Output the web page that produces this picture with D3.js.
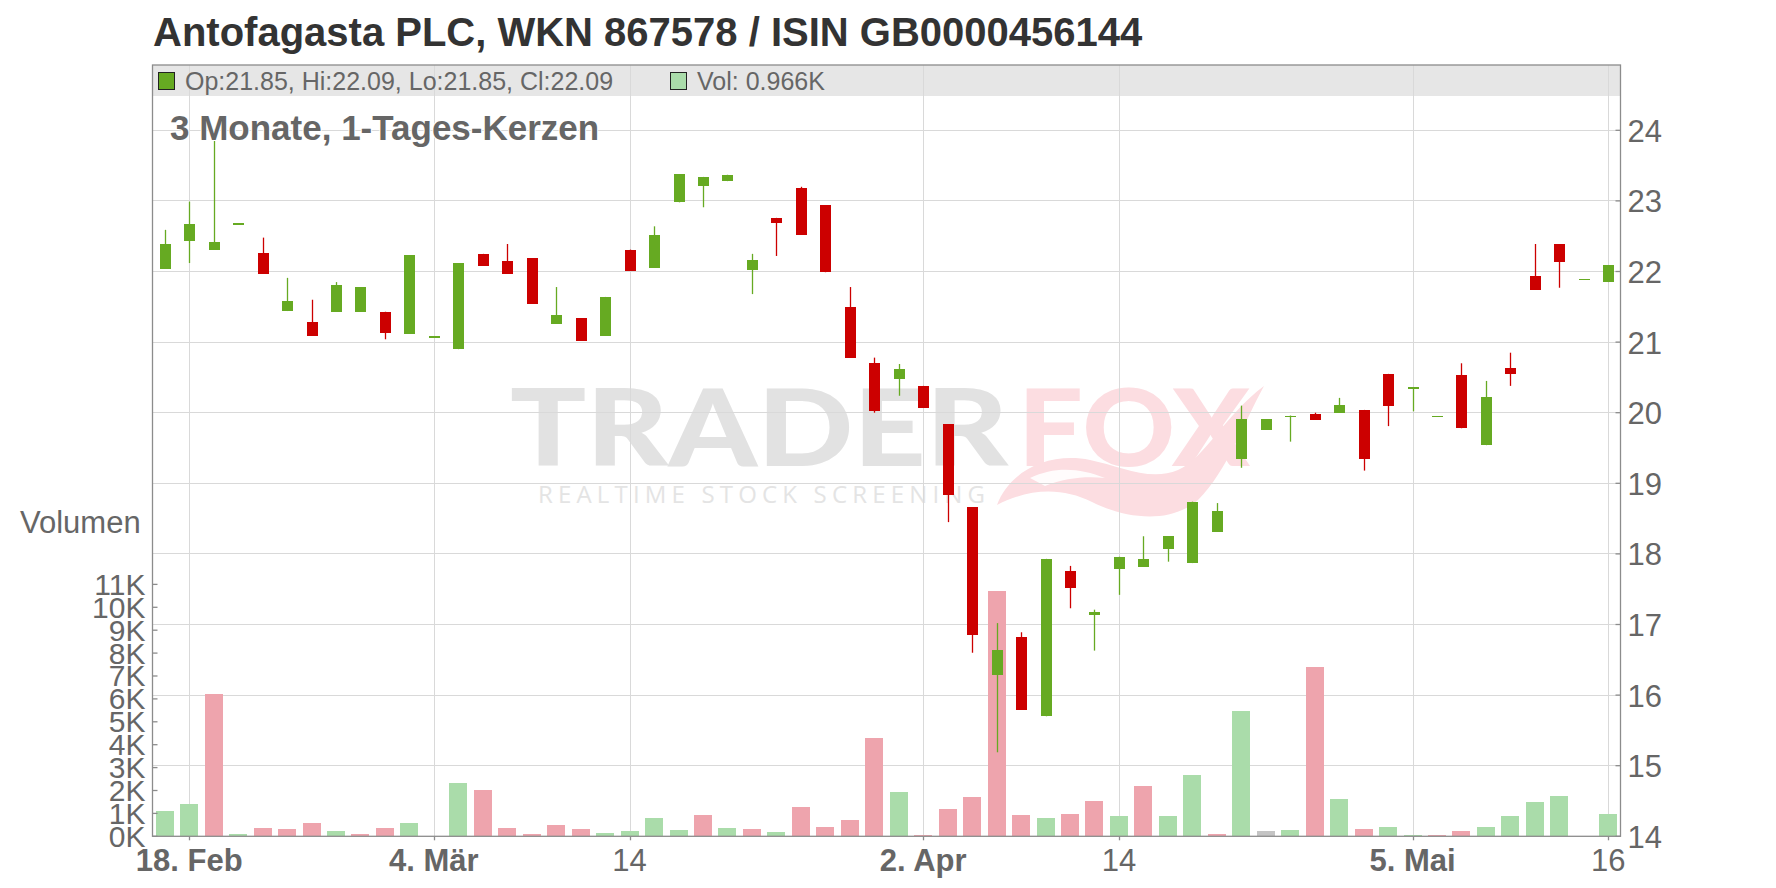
<!DOCTYPE html>
<html><head><meta charset="utf-8">
<script src="https://cdn.jsdelivr.net/npm/d3@7"></script>
<style>
html,body{margin:0;padding:0;background:#fff;}
svg{display:block;font-family:"Liberation Sans",Arial,sans-serif;}
</style></head><body>
<svg id="chart" width="1776" height="888"></svg>
<script>
// ---------------- DATA ----------------
const dates = [
 "2025-02-17","2025-02-18","2025-02-19","2025-02-20","2025-02-21","2025-02-24","2025-02-25","2025-02-26","2025-02-27","2025-02-28",
 "2025-03-03","2025-03-04","2025-03-05","2025-03-06","2025-03-07","2025-03-10","2025-03-11","2025-03-12","2025-03-13","2025-03-14",
 "2025-03-18","2025-03-19","2025-03-20","2025-03-21","2025-03-24","2025-03-25","2025-03-26","2025-03-27","2025-03-28","2025-03-31",
 "2025-04-01","2025-04-02","2025-04-03","2025-04-04","2025-04-07","2025-04-08","2025-04-09","2025-04-10","2025-04-11","2025-04-14",
 "2025-04-15","2025-04-16","2025-04-17","2025-04-22","2025-04-23","2025-04-24","2025-04-25","2025-04-28","2025-04-29","2025-04-30",
 "2025-05-02","2025-05-05","2025-05-06","2025-05-07","2025-05-08","2025-05-09","2025-05-13","2025-05-14","2025-05-15","2025-05-16"
];
const open  = [22.04,22.43,22.31,22.68,22.26,21.44,21.29,21.43,21.43,21.43,
               21.12,21.08,20.90,22.25,22.15,22.19,21.26,21.34,21.09,22.31,
               22.05,22.98,23.21,23.28,22.02,22.76,23.18,22.94,21.50,20.70,
               20.48,20.38,19.84,18.66,16.29,16.82,15.70,17.76,17.14,17.79,
               17.82,18.07,17.87,18.31,19.35,19.76,19.95,19.98,20.00,20.04,
               20.55,20.34,19.95,20.53,19.54,20.63,21.94,22.39,21.89,21.85];
const high  = [22.59,22.99,24.02,22.68,22.48,21.91,21.60,21.85,21.78,21.43,
               22.23,21.08,22.12,22.25,22.39,22.19,21.78,21.34,21.64,22.31,
               22.64,23.38,23.34,23.37,22.25,22.76,23.20,22.94,21.78,20.78,
               20.69,20.38,19.84,18.66,17.02,16.89,17.93,17.83,17.21,17.96,
               18.25,18.25,18.74,18.72,20.10,19.91,19.96,20.00,20.21,20.04,
               20.55,20.36,19.95,20.70,20.45,20.85,22.39,22.39,21.89,22.09];
const low   = [22.04,22.12,22.31,22.68,21.97,21.44,21.09,21.43,21.43,21.04,
               21.12,21.08,20.90,22.08,21.97,21.54,21.26,21.02,21.09,22.01,
               22.05,22.98,22.91,23.28,21.68,22.22,22.52,21.99,20.78,20.00,
               20.24,20.07,18.45,16.60,15.19,15.79,15.70,17.23,16.63,17.42,
               17.82,17.89,17.87,18.31,19.22,19.76,19.59,19.90,20.00,19.18,
               19.81,20.02,19.95,19.78,19.54,20.38,21.74,21.77,21.89,21.85];
const close = [22.39,22.67,22.42,22.68,21.97,21.58,21.09,21.81,21.78,21.13,
               22.23,21.08,22.12,22.08,21.97,21.54,21.39,21.02,21.64,22.01,
               22.52,23.38,23.34,23.37,22.16,22.69,22.52,21.99,20.78,20.02,
               20.62,20.07,18.83,16.85,16.64,15.79,17.93,17.52,17.18,17.96,
               17.93,18.25,18.74,18.61,19.91,19.91,19.96,19.90,20.11,19.34,
               20.10,20.36,19.95,19.78,20.22,20.55,21.74,22.14,21.89,22.09];
// volume in thousands
const volume = [1.10,1.41,6.23,0.10,0.36,0.32,0.58,0.23,0.10,0.36,
                0.58,0.00,2.32,2.01,0.36,0.10,0.49,0.32,0.14,0.23,
                0.80,0.28,0.93,0.36,0.32,0.19,1.28,0.41,0.71,4.28,
                1.93,0.06,1.19,1.71,10.71,0.93,0.80,0.97,1.54,0.88,
                2.19,0.88,2.67,0.10,5.49,0.23,0.28,7.41,1.62,0.32,
                0.41,0.06,0.06,0.23,0.41,0.88,1.49,1.75,0.00,0.966];
const priceTicks  = [14,15,16,17,18,19,20,21,22,23,24];
const volumeTicks = [0,1,2,3,4,5,6,7,8,9,10,11];
const dateTicks      = ["2025-02-18","2025-03-04","2025-03-14","2025-04-02","2025-04-14","2025-05-05","2025-05-16"];
const dateTickLabels = ["18. Feb","4. Mär","14","2. Apr","14","5. Mai","16"];
const titleText    = "Antofagasta PLC, WKN 867578 / ISIN GB0000456144";
const subtitleText = "3 Monate, 1-Tages-Kerzen";
const legendOHLC   = "Op:21.85, Hi:22.09, Lo:21.85, Cl:22.09";
const legendVol    = "Vol: 0.966K";

// ---------------- LAYOUT ----------------
const plot = {left:152.5, right:1620.5, top:65, bottom:836.3};
const GREEN="#66aa22", RED="#cc0000", VGREEN="#aadcaa", VRED="#eea4ad", VGREY="#c4c4c4";
const GRID="#d9d9d9", AXIS="#8c8c8c", TXT="#666666";

const svg = d3.select("#chart");
svg.append("rect").attr("width",1776).attr("height",888).attr("fill","#fff");

const x  = d3.scaleBand().domain(dates).range([plot.left, plot.right]).paddingInner(0).paddingOuter(0);
const cx = d => x(d) + x.bandwidth()/2;
const y  = d3.scaleLinear().domain([14, 24.925]).range([plot.bottom, plot.top]);
const yv = d3.scaleLinear().domain([0, 33.68]).range([plot.bottom, plot.top]);

const data = dates.map((d,i)=>({d, o:open[i], h:high[i], l:low[i], c:close[i], v:volume[i], prev: i>0?close[i-1]:null}));

// ---------------- WATERMARK ----------------
const wm = svg.append("g").attr("class","watermark");
wm.append("text").attr("x",510).attr("y",466).attr("font-family","Lato, 'Open Sans', sans-serif")
  .attr("font-weight",900).attr("font-size",106).attr("fill","#e2e2e2")
  .attr("textLength",498).attr("lengthAdjust","spacingAndGlyphs").text("TRADER");
wm.append("text").attr("x",1018).attr("y",466).attr("font-family","Lato, 'Open Sans', sans-serif")
  .attr("font-weight",900).attr("font-size",106).attr("fill","#fcdde1")
  .attr("textLength",232).attr("lengthAdjust","spacingAndGlyphs").text("FOX");
wm.append("path").attr("fill","#fcdde1")
  .attr("d","M997,505 C1010,470 1050,452 1090,460 C1120,466 1150,482 1178,470 C1205,458 1225,415 1264,386 C1244,422 1228,470 1198,500 C1168,526 1122,517 1092,502 C1062,487 1030,488 997,505 Z");
wm.append("path").attr("fill","#fff").attr("opacity",0.9)
  .attr("d","M1030,478 C1055,466 1080,468 1105,478 C1085,476 1065,478 1045,486 Z");
wm.append("text").attr("x",538).attr("y",503).attr("font-family","'Open Sans', sans-serif")
  .attr("font-size",24).attr("fill","#e4e4e4")
  .attr("textLength",447).attr("lengthAdjust","spacing").text("REALTIME STOCK SCREENING");

// ---------------- LEGEND BAND ----------------
svg.append("rect").attr("x",plot.left).attr("y",plot.top).attr("width",plot.right-plot.left).attr("height",31)
  .attr("fill","#e6e6e6");

// ---------------- GRID ----------------
const grid = svg.append("g").attr("stroke",GRID).attr("stroke-width",1).attr("shape-rendering","crispEdges");
grid.selectAll("line.h").data(priceTicks.filter(t=>t>14)).join("line").attr("class","h")
  .attr("x1",plot.left).attr("x2",plot.right).attr("y1",d=>y(d)).attr("y2",d=>y(d));
grid.selectAll("line.v").data(dateTicks).join("line").attr("class","v")
  .attr("x1",d=>Math.round(cx(d))+0.5).attr("x2",d=>Math.round(cx(d))+0.5).attr("y1",plot.top).attr("y2",plot.bottom);

// ---------------- VOLUME ----------------
const vcol = d => d.prev===null || d.c>d.prev ? VGREEN : (d.c<d.prev ? VRED : VGREY);
svg.append("g").attr("shape-rendering","crispEdges").selectAll("rect").data(data.filter(d=>d.v>0)).join("rect")
  .attr("x",d=>cx(d.d)-9).attr("width",18)
  .attr("y",d=>yv(d.v)).attr("height",d=>plot.bottom-yv(d.v))
  .attr("fill",vcol);

// ---------------- CANDLES ----------------
const ccol = d => d.c>=d.o ? GREEN : RED;
const cg = svg.append("g");
cg.selectAll("line").data(data).join("line")
  .attr("x1",d=>Math.round(cx(d.d))+0.5).attr("x2",d=>Math.round(cx(d.d))+0.5)
  .attr("y1",d=>y(d.h)).attr("y2",d=>y(d.l)).attr("stroke",ccol).attr("stroke-width",1.3);
cg.selectAll("rect").data(data).join("rect").attr("shape-rendering","crispEdges")
  .attr("x",d=>Math.round(cx(d.d))-5).attr("width",11)
  .attr("y",d=>y(Math.max(d.o,d.c))).attr("height",d=>Math.max(1.2,Math.abs(y(d.o)-y(d.c))))
  .attr("fill",ccol);

// ---------------- FRAME & AXES ----------------
const ax = svg.append("g").attr("stroke",AXIS).attr("stroke-width",1.3).attr("fill","none");
ax.append("rect").attr("x",plot.left).attr("y",plot.top).attr("width",plot.right-plot.left).attr("height",plot.bottom-plot.top);
ax.selectAll("line.pt").data(priceTicks).join("line").attr("class","pt")
  .attr("x1",plot.right-5).attr("x2",plot.right).attr("y1",d=>y(d)).attr("y2",d=>y(d));
ax.selectAll("line.vt").data(volumeTicks).join("line").attr("class","vt")
  .attr("x1",plot.left).attr("x2",plot.left+5).attr("y1",d=>yv(d)).attr("y2",d=>yv(d));
ax.selectAll("line.dt").data(dateTicks).join("line").attr("class","dt")
  .attr("x1",d=>Math.round(cx(d))+0.5).attr("x2",d=>Math.round(cx(d))+0.5).attr("y1",plot.bottom).attr("y2",plot.bottom+4);

const lab = svg.append("g").attr("fill",TXT);
lab.selectAll("text.p").data(priceTicks).join("text").attr("class","p")
  .attr("x",plot.right+7).attr("y",d=>y(d)+11.5).attr("font-size",31).text(d=>d);
lab.selectAll("text.v").data(volumeTicks).join("text").attr("class","v")
  .attr("x",plot.left-7).attr("y",d=>yv(d)+10.5).attr("font-size",30).attr("text-anchor","end").text(d=>d+"K");
lab.selectAll("text.d").data(dateTicks).join("text").attr("class","d")
  .attr("x",d=>cx(d)).attr("y",871).attr("font-size",31).attr("text-anchor","middle")
  .attr("font-weight",(d,i)=>dateTickLabels[i].includes(" ")?"bold":"normal")
  .text((d,i)=>dateTickLabels[i]);
lab.append("text").attr("x",20).attr("y",533).attr("font-size",31).text("Volumen");

// ---------------- LEGEND ----------------
svg.append("rect").attr("x",158.5).attr("y",72.5).attr("width",16).attr("height",17).attr("fill",GREEN).attr("stroke","#222").attr("stroke-width",1);
svg.append("text").attr("x",185).attr("y",90).attr("font-size",25).attr("fill",TXT).text(legendOHLC);
svg.append("rect").attr("x",670.5).attr("y",72.5).attr("width",16).attr("height",17).attr("fill",VGREEN).attr("stroke","#222").attr("stroke-width",1);
svg.append("text").attr("x",697).attr("y",90).attr("font-size",25).attr("fill",TXT).text(legendVol);

// ---------------- TITLES ----------------
svg.append("text").attr("x",170).attr("y",140).attr("font-size",35).attr("font-weight","bold")
  .attr("fill",TXT).attr("stroke","#fff").attr("stroke-width",2).attr("paint-order","stroke").text(subtitleText);
svg.append("text").attr("x",153).attr("y",46).attr("font-size",40).attr("font-weight","bold")
  .attr("fill","#333").text(titleText);
</script>
</body></html>
